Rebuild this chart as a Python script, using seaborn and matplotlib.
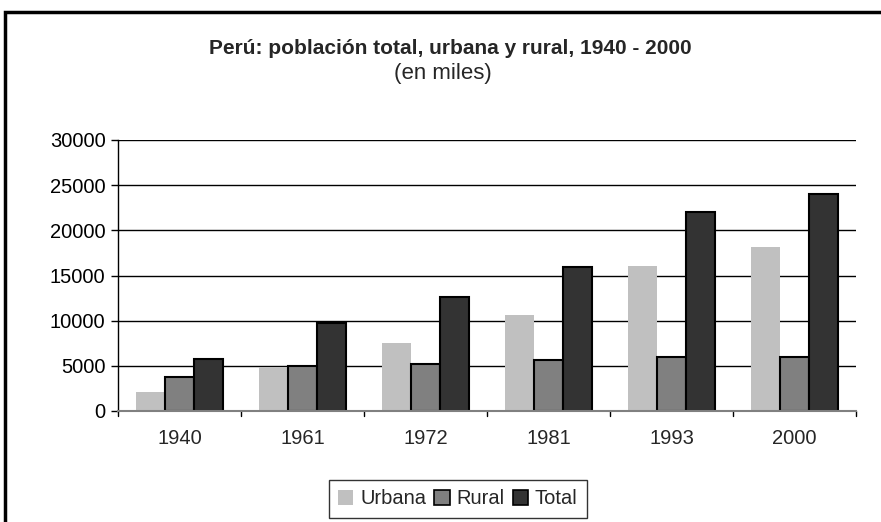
import matplotlib
matplotlib.use("Agg")
import matplotlib.pyplot as plt
import seaborn as sns
import pandas as pd
from matplotlib.patches import Rectangle, Patch

years = ["1940", "1961", "1972", "1981", "1993", "2000"]
urbana = [2140, 4910, 7560, 10630, 16050, 18120]
rural = [3730, 4980, 5170, 5650, 6010, 6010]
total = [5790, 9780, 12650, 15980, 22000, 24060]
series = ["Urbana", "Rural", "Total"]
colors = ["#c0c0c0", "#808080", "#333333"]

df = pd.DataFrame({
    "year": years * 3,
    "value": urbana + rural + total,
    "serie": ["Urbana"] * 6 + ["Rural"] * 6 + ["Total"] * 6,
})

sns.set_style("white")
plt.rcParams["font.family"] = ["Liberation Sans", "DejaVu Sans"]

fig = plt.figure(figsize=(8.81, 5.22), dpi=100)
ax = fig.add_axes([118/881, 1-411/522, (856-118)/881, (411-140)/522])

sns.barplot(data=df, x="year", y="value", hue="serie", hue_order=series,
            palette=colors, width=0.7, ax=ax, legend=False, saturation=1)

for i, patch in enumerate(ax.patches):
    s = i // len(years)
    if s == 0:
        patch.set_edgecolor("none")
    else:
        patch.set_edgecolor("black")
        patch.set_linewidth(1.5)

fs = 14.5
ax.set_ylim(0, 30000)
ax.set_xlim(-0.5, len(years) - 0.5)
ax.set_yticks(range(0, 30001, 5000))
ax.set_yticklabels([str(v) for v in range(0, 30001, 5000)], fontsize=fs)
ax.set_xticks(range(len(years)))
ax.set_xticklabels(years, fontsize=fs)
ax.tick_params(axis="x", length=0, pad=13)
ax.tick_params(axis="y", length=5, width=1, direction="out", left=True, pad=4, colors="black")
for xb in [i - 0.5 for i in range(len(years) + 1)]:
    ax.plot([xb, xb], [0, -0.02], transform=ax.get_xaxis_transform(),
            color="black", lw=1, clip_on=False)
ax.yaxis.grid(True, color="black", lw=1)
ax.set_axisbelow(True)
ax.set_xlabel("")
ax.set_ylabel("")
for side in ["top", "right"]:
    ax.spines[side].set_visible(False)
ax.spines["left"].set_color("black")
ax.spines["left"].set_linewidth(1)
ax.spines["bottom"].set_color("#808080")
ax.spines["bottom"].set_linewidth(1.5)

fig.text(450/881, 1-48/522, "Perú: población total, urbana y rural, 1940 - 2000",
         ha="center", va="center", fontsize=15, fontweight="bold")
fig.text(443/881, 1-73/522, "(en miles)", ha="center", va="center", fontsize=16)

# outer chart border
fig.patches.append(Rectangle((5/881, -0.05), 1.0, 1 - 12/522 + 0.05,
                             transform=fig.transFigure, fill=False,
                             edgecolor="black", lw=2.5))

handles = [Patch(facecolor=colors[0], edgecolor="none"),
           Patch(facecolor=colors[1], edgecolor="black", lw=1.2),
           Patch(facecolor=colors[2], edgecolor="black", lw=1.2)]
leg = fig.legend(handles, series, loc="center", bbox_to_anchor=(458/881, 1-499/522),
                 ncol=3, fontsize=fs, frameon=True, fancybox=False,
                 handlelength=0.75, handleheight=0.75, handletextpad=0.35,
                 columnspacing=0.4, borderpad=0.45, edgecolor="black")
leg.get_frame().set_linewidth(1)

fig.savefig("out.png", dpi=100)
